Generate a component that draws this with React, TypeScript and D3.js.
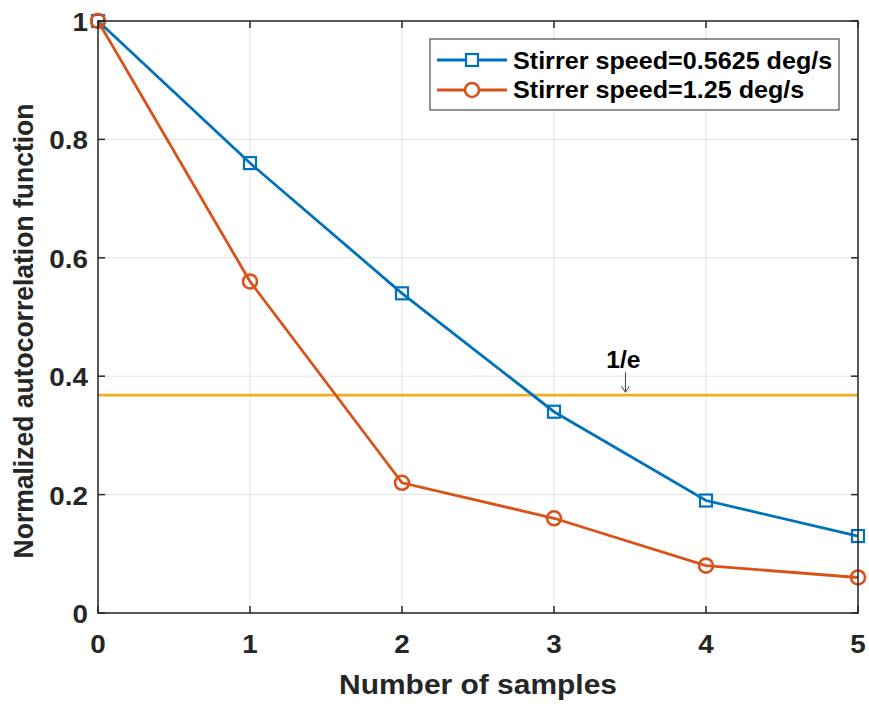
import React from "react";
import * as d3 from "d3";

const samples = [0, 1, 2, 3, 4, 5];
const slowSeries = [1, 0.76, 0.54, 0.34, 0.19, 0.13];
const fastSeries = [1, 0.56, 0.22, 0.16, 0.08, 0.06];
const xTicks = [0, 1, 2, 3, 4, 5];
const yTicks = [0, 0.2, 0.4, 0.6, 0.8, 1];
const yTickLabels = ["0", "0.2", "0.4", "0.6", "0.8", "1"];
const legendLabels = ["Stirrer speed=0.5625 deg/s", "Stirrer speed=1.25 deg/s"];
const threshold = 1 / Math.E;

const W = 869, H = 704;
const L = 98, R = 858, T = 21, B = 613;
const BLUE = "#0072BD", ORANGE = "#D95319", YELLOW = "#EDB120", AX = "#262626";
const FONT = "'Liberation Sans', Arial, Helvetica, sans-serif";
const SX = 1.07;

function T2(props: { x: number; y: number; size: number; anchor?: string; fill?: string; rot?: boolean; children: React.ReactNode }) {
  const { x, y, size, anchor = "start", fill = AX, rot = false } = props;
  const tr = rot ? `translate(${x},${y}) scale(${SX},1) rotate(-90)` : `translate(${x},${y}) scale(${SX},1)`;
  return (
    <text transform={tr} textAnchor={anchor} fontSize={size} fontWeight="bold" fill={fill}>{props.children}</text>
  );
}

export default function App() {
  const x = d3.scaleLinear().domain([0, 5]).range([L, R]);
  const y = d3.scaleLinear().domain([0, 1]).range([B, T]);
  const line = d3.line<number>().x((_, i) => x(samples[i])).y(d => y(d));
  const tl = 7;
  const arrowX = x(3.47);
  const yt = y(threshold);
  const lw = 2.8;
  return (
    <svg width={W} height={H} style={{ position: "absolute", left: 0, top: 0, background: "#fff" }} fontFamily={FONT}>
      <rect x={0} y={0} width={W} height={H} fill="#fff" />
      {xTicks.map(t => (
        <line key={"gx" + t} x1={x(t)} x2={x(t)} y1={T} y2={B} stroke="#e3e3e3" strokeWidth={1} />
      ))}
      {yTicks.map(t => (
        <line key={"gy" + t} x1={L} x2={R} y1={y(t)} y2={y(t)} stroke="#e3e3e3" strokeWidth={1} />
      ))}
      <line x1={L} x2={R} y1={yt} y2={yt} stroke={YELLOW} strokeWidth={lw} />
      <path d={line(slowSeries) || ""} fill="none" stroke={BLUE} strokeWidth={lw} />
      <path d={line(fastSeries) || ""} fill="none" stroke={ORANGE} strokeWidth={lw} />
      {slowSeries.map((v, i) => (
        <rect key={"s" + i} x={x(samples[i]) - 6} y={y(v) - 6} width={12} height={12} fill="none" stroke={BLUE} strokeWidth={2.2} />
      ))}
      {fastSeries.map((v, i) => (
        <circle key={"f" + i} cx={x(samples[i])} cy={y(v)} r={7} fill="none" stroke={ORANGE} strokeWidth={2.6} />
      ))}
      {/* 1/e annotation */}
      <T2 x={arrowX - 2} y={yt - 27} size={23} anchor="middle" fill="#000">1/e</T2>
      <line x1={arrowX} x2={arrowX} y1={yt - 23} y2={yt - 3} stroke="#444" strokeWidth={1} />
      <path d={`M${arrowX - 4},${yt - 9} L${arrowX},${yt - 3} L${arrowX + 4},${yt - 9}`} fill="none" stroke="#444" strokeWidth={1} />
      {/* axes box */}
      <rect x={L} y={T} width={R - L} height={B - T} fill="none" stroke={AX} strokeWidth={1.5} />
      {xTicks.map(t => (
        <g key={"tx" + t}>
          <line x1={x(t)} x2={x(t)} y1={B} y2={B - tl} stroke={AX} strokeWidth={1.5} />
          <line x1={x(t)} x2={x(t)} y1={T} y2={T + tl} stroke={AX} strokeWidth={1.5} />
          <T2 x={x(t)} y={B + 40} size={26} anchor="middle">{t}</T2>
        </g>
      ))}
      {yTicks.map((t, i) => (
        <g key={"ty" + t}>
          <line x1={L} x2={L + tl} y1={y(t)} y2={y(t)} stroke={AX} strokeWidth={1.5} />
          <line x1={R} x2={R - tl} y1={y(t)} y2={y(t)} stroke={AX} strokeWidth={1.5} />
          <T2 x={L - 10} y={y(t) + 10} size={26} anchor="end">{yTickLabels[i]}</T2>
        </g>
      ))}
      <T2 x={(L + R) / 2} y={B + 81} size={28} anchor="middle">Number of samples</T2>
      <T2 x={33} y={331} size={26.5} anchor="middle" rot>Normalized autocorrelation function</T2>
      {/* legend */}
      <rect x={430} y={39} width={409} height={71} fill="#fff" stroke={AX} strokeWidth={1} />
      <line x1={437} x2={507} y1={60} y2={60} stroke={BLUE} strokeWidth={lw} />
      <rect x={466} y={54} width={12} height={12} fill="#fff" stroke={BLUE} strokeWidth={2.2} />
      <T2 x={513} y={69} size={23.5} fill="#000">{legendLabels[0]}</T2>
      <line x1={437} x2={507} y1={90} y2={90} stroke={ORANGE} strokeWidth={lw} />
      <circle cx={472} cy={90} r={7} fill="#fff" stroke={ORANGE} strokeWidth={2.6} />
      <T2 x={513} y={98} size={23.5} fill="#000">{legendLabels[1]}</T2>
    </svg>
  );
}
